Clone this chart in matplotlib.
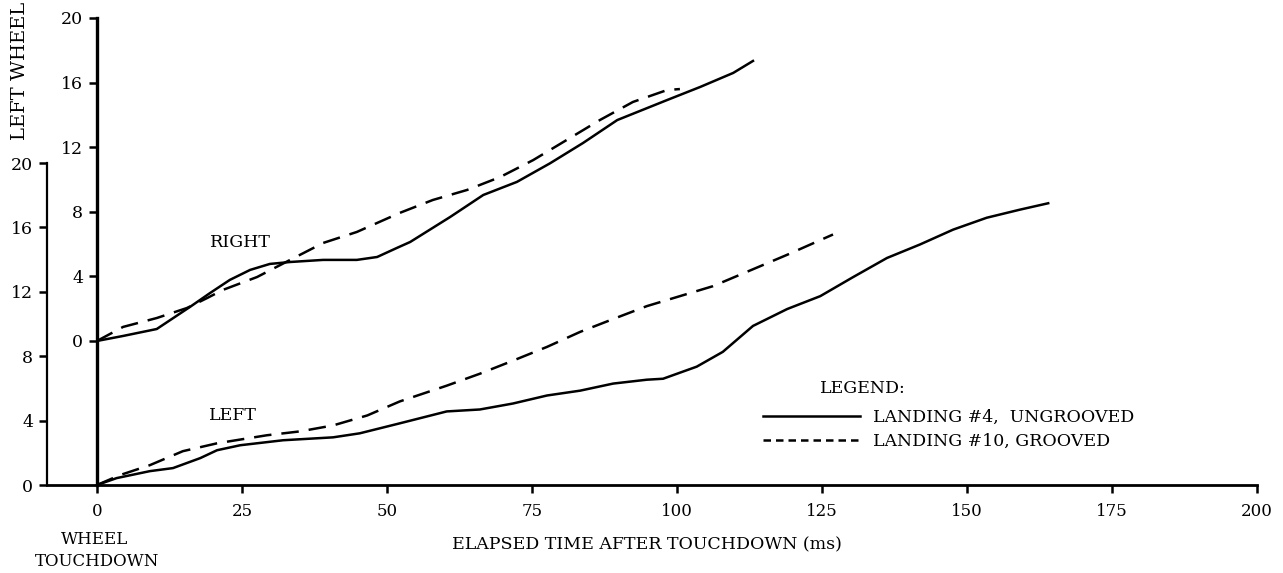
import matplotlib.pyplot as plt
from matplotlib.lines import Line2D

plt.rcParams['font.family'] = ['DejaVu Serif']

# elapsed time (ms) and wheel values
# RIGHT wheel, landing #4 (ungrooved)
rightUngroovedT = [0, 4.5, 10.3, 16.0, 19.5, 22.9, 26.4, 29.8, 33.3, 39.0, 44.8, 48.3,
                   51.7, 54.0, 60.9, 66.6, 72.4, 78.1, 83.8, 89.7, 98.3, 104.0, 109.7, 113.1]
rightUngroovedV = [0, 0.31, 0.74, 2.1, 2.97, 3.78, 4.40, 4.77, 4.89, 5.02, 5.02, 5.2,
                   5.76, 6.13, 7.68, 9.04, 9.85, 11.0, 12.26, 13.68, 14.92, 15.73, 16.6, 17.34]
# RIGHT wheel, landing #10 (grooved)
rightGroovedT = [0, 4.5, 10.3, 15.5, 19.0, 21.7, 27.6, 33.3, 39.0, 44.8, 52.2, 57.9,
                 63.8, 69.5, 75.2, 81.0, 86.7, 92.4, 98.3, 100.5]
rightGroovedV = [0, 0.87, 1.42, 2.04, 2.66, 3.16, 3.96, 5.02, 6.07, 6.75, 7.93, 8.73,
                 9.35, 10.15, 11.2, 12.45, 13.68, 14.8, 15.54, 15.6]
# LEFT wheel, landing #4 (ungrooved)
leftUngroovedT = [0, 3.4, 9.1, 13.1, 17.8, 20.7, 24.7, 32.1, 40.7, 45.3, 52.2, 60.3,
                  66.0, 71.7, 77.6, 83.3, 89.0, 94.8, 97.6, 103.4, 107.9, 113.1, 119.0,
                  124.7, 130.3, 136.2, 141.9, 147.6, 153.4, 159.1, 164.0]
leftUngroovedV = [0, 0.43, 0.86, 1.05, 1.67, 2.16, 2.47, 2.78, 2.96, 3.21, 3.83, 4.57,
                  4.69, 5.06, 5.56, 5.86, 6.30, 6.54, 6.60, 7.35, 8.27, 9.88, 10.93,
                  11.73, 12.9, 14.1, 14.94, 15.86, 16.6, 17.1, 17.5]
# LEFT wheel, landing #10 (grooved)
leftGroovedT = [0, 4.0, 9.1, 14.8, 20.7, 29.3, 35.0, 40.7, 46.6, 52.2, 60.3, 66.0,
                71.7, 77.6, 83.3, 89.0, 94.8, 100.5, 106.2, 113.1, 119.0, 126.9]
leftGroovedV = [0, 0.62, 1.23, 2.1, 2.59, 3.09, 3.33, 3.70, 4.32, 5.19, 6.17, 6.91,
                7.72, 8.58, 9.51, 10.31, 11.11, 11.73, 12.35, 13.4, 14.3, 15.56]

xTicks = [0, 25, 50, 75, 100, 125, 150, 175, 200]
yTicks = [0, 4, 8, 12, 16, 20]

W, H = 1283, 573
fig = plt.figure(figsize=(W / 100, H / 100), dpi=100)

LW = 1.8
DASH = (0, (7, 4))
lineKw = dict(color='black', lw=LW, solid_joinstyle='round', dash_joinstyle='round')

# lower axis (LEFT wheel)
axLeft = fig.add_axes([47 / W, (H - 485) / H, (1257 - 47) / W, (485 - 163) / H])
axLeft.set_xlim(-8.62, 200)
axLeft.set_ylim(0, 20)
axLeft.plot(leftUngroovedT, leftUngroovedV, **lineKw)
axLeft.plot(leftGroovedT, leftGroovedV, linestyle=DASH, **lineKw)
for s in ['top', 'right']:
    axLeft.spines[s].set_visible(False)
axLeft.spines['left'].set_linewidth(1.6)
axLeft.spines['bottom'].set_linewidth(2.0)
axLeft.set_xticks(xTicks)
axLeft.set_yticks(yTicks)
axLeft.tick_params(axis='x', direction='out', length=6, width=1.8, labelsize=12, pad=7)
axLeft.tick_params(axis='y', direction='out', length=6, width=1.8, labelsize=12.5, pad=4)

# upper axis (RIGHT wheel)
axRight = fig.add_axes([97 / W, (H - 485) / H, (1257 - 97) / W, (485 - 18) / H])
axRight.patch.set_alpha(0)
axRight.set_xlim(0, 200)
axRight.set_ylim(-8.92, 20)
axRight.plot(rightUngroovedT, rightUngroovedV, **lineKw)
axRight.plot(rightGroovedT, rightGroovedV, linestyle=DASH, **lineKw)
for s in ['top', 'right', 'bottom']:
    axRight.spines[s].set_visible(False)
axRight.spines['left'].set_linewidth(2.4)
axRight.set_xticks([])
axRight.set_yticks(yTicks)
axRight.tick_params(axis='y', direction='out', length=6, width=1.8, labelsize=12.5, pad=4)

axRight.text(24.8, 6.1, 'RIGHT', fontsize=12.5, ha='center', va='center')
axLeft.text(23.4, 4.3, 'LEFT', fontsize=12.5, ha='center', va='center')

# legend
axLeft.text(124.7, 6.0, 'LEGEND:', fontsize=12.5, ha='left', va='center')
handles = [Line2D([], [], color='black', lw=LW),
           Line2D([], [], color='black', lw=LW, linestyle=(0, (3, 2)))]
axLeft.legend(handles, ['LANDING #4,  UNGROOVED', 'LANDING #10, GROOVED'],
              loc='upper left', bbox_to_anchor=((763 - 47) / 1210, 1 - (409 - 163) / 322),
              frameon=False, fontsize=12.5, handlelength=5.6, handletextpad=0.75,
              labelspacing=0.4, borderaxespad=0, borderpad=0)

fig.text(647 / W, 1 - 545 / H, 'ELAPSED TIME AFTER TOUCHDOWN (ms)', fontsize=12.5,
         ha='center', va='center')
fig.text(95 / W, 1 - 540 / H, 'WHEEL', fontsize=12, ha='center', va='center')
fig.text(97 / W, 1 - 562 / H, 'TOUCHDOWN', fontsize=12, ha='center', va='center')
fig.text(20 / W, 1 - 140 / H, 'LEFT WHEEL', fontsize=14, rotation=90,
         ha='center', va='bottom')

fig.savefig('out.png', dpi=100)
